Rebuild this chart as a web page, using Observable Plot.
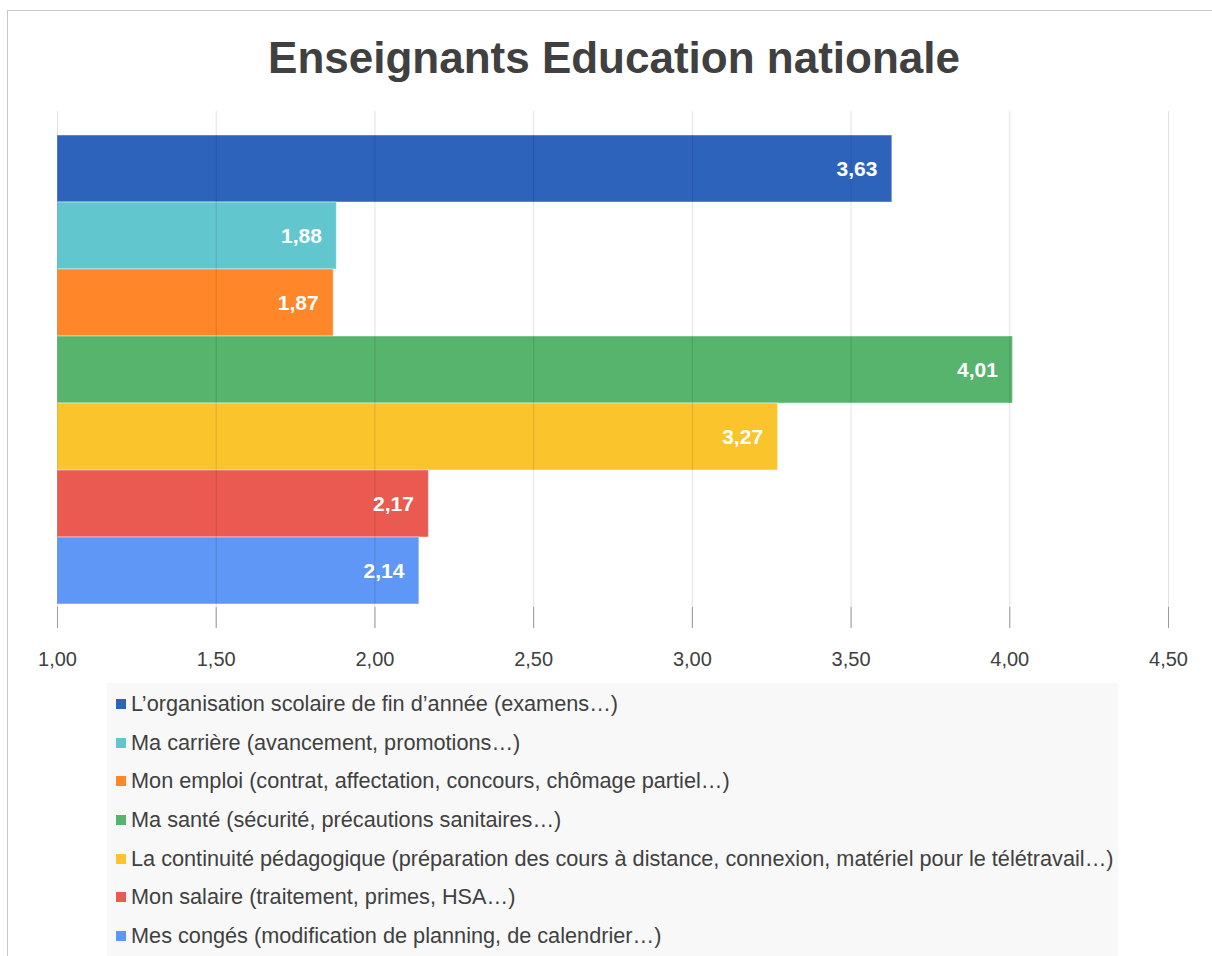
<!DOCTYPE html>
<html lang="fr">
<head>
<meta charset="utf-8">
<script src="https://cdn.jsdelivr.net/npm/d3@7"></script>
<script src="https://cdn.jsdelivr.net/npm/@observablehq/plot@0.6"></script>
<style>
  html, body { margin: 0; padding: 0; background: #ffffff; }
  body { width: 1212px; height: 956px; position: relative; overflow: hidden;
         font-family: "Liberation Sans", Arial, sans-serif; color: #404040; }
  #frame { position: absolute; left: 7px; top: 10px; width: 1300px; height: 1000px;
           border-left: 1px solid #c8c8c8; border-top: 1px solid #c8c8c8; box-sizing: border-box; }
  #title { position: absolute; left: 8px; top: 30px; width: 1212px; text-align: center;
           font-size: 44px; font-weight: bold; line-height: 56px; color: #404040; }
  #chart { position: absolute; left: 0; top: 100px; }
  #legend { position: absolute; left: 107px; top: 683px; width: 1011px; height: 273px;
            background: #f8f8f8; box-sizing: border-box; padding: 2px 0 0 9px; }
  .item { height: 38.6px; display: flex; align-items: center; font-size: 21.7px; white-space: nowrap; color: #404040; }
  .sw { width: 10px; height: 10px; margin-right: 5px; flex: none; }
</style>
</head>
<body>
<div id="frame"></div>
<div id="title">Enseignants Education nationale</div>
<div id="chart"></div>
<div id="legend"></div>
<script>
const categories = [
  "L’organisation scolaire de fin d’année (examens…)",
  "Ma carrière (avancement, promotions…)",
  "Mon emploi (contrat, affectation, concours, chômage partiel…)",
  "Ma santé (sécurité, précautions sanitaires…)",
  "La continuité pédagogique (préparation des cours à distance, connexion, matériel pour le télétravail…)",
  "Mon salaire (traitement, primes, HSA…)",
  "Mes congés (modification de planning, de calendrier…)"
];
const values = [3.63, 1.88, 1.87, 4.01, 3.27, 2.17, 2.14];
const colors = ["#2e63bc", "#62c6cf", "#ff8629", "#56b46c", "#fac42c", "#ea5a50", "#5e97f6"];
const xTicks = [1.0, 1.5, 2.0, 2.5, 3.0, 3.5, 4.0, 4.5];
const xBase = 1.0;

const fr = v => d3.format(".2f")(v).replace(".", ",");
const data = categories.map((c, i) => ({cat: c, value: values[i]}));

const plot = Plot.plot({
  width: 1212,
  height: 580,
  marginTop: 11,
  marginBottom: 52,
  marginLeft: 57,
  marginRight: 44,
  style: {fontFamily: "'Liberation Sans', Arial, sans-serif", fontSize: "20px", color: "#404040", background: "transparent"},
  x: {domain: [1, 4.5], ticks: xTicks, tickFormat: fr, label: null},
  y: {domain: categories, paddingInner: 0, paddingOuter: 0.325, axis: null},
  color: {domain: categories, range: colors},
  marks: [
    Plot.barX(data, {x1: xBase, x2: "value", y: "cat", fill: "cat",
      stroke: "#ffffff", strokeOpacity: 0.45, strokeWidth: 1}),
    Plot.ruleX(xTicks, {stroke: "#000000", strokeOpacity: 0.12, strokeWidth: 1}),
    Plot.ruleX(xTicks, {stroke: "#9a9a9a", strokeWidth: 1, insetTop: 496}),
    Plot.text(data, {x: "value", y: "cat", text: d => fr(d.value), textAnchor: "end", dx: -15,
      fill: "#ffffff", fontWeight: "bold", fontSize: 21}),
    Plot.axisX({ticks: xTicks, tickFormat: fr, tickSize: 0, tickPadding: 23, fontSize: 20, color: "#404040", label: null})
  ]
});
document.getElementById("chart").appendChild(plot);

const legend = document.getElementById("legend");
categories.forEach((c, i) => {
  const row = document.createElement("div");
  row.className = "item";
  const sw = document.createElement("span");
  sw.className = "sw";
  sw.style.background = colors[i];
  const t = document.createElement("span");
  t.textContent = c;
  row.appendChild(sw);
  row.appendChild(t);
  legend.appendChild(row);
});
</script>
</body>
</html>
